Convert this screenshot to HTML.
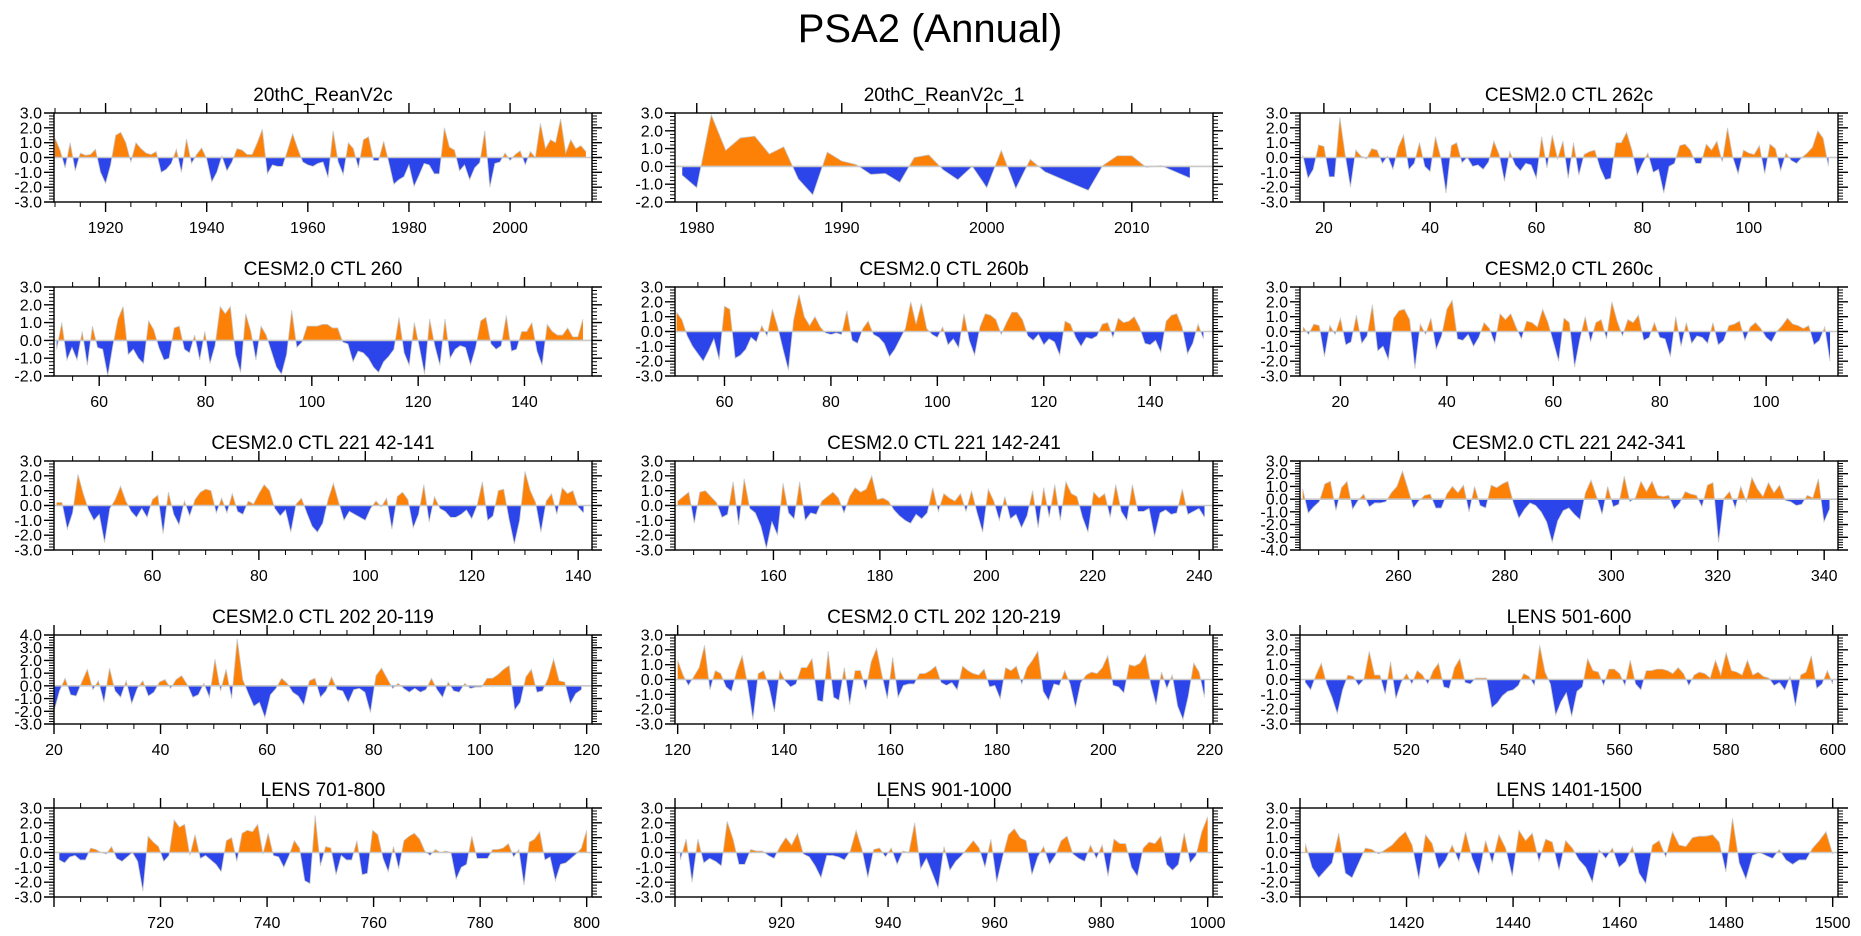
<!DOCTYPE html>
<html><head><meta charset="utf-8">
<style>
html,body{margin:0;padding:0;background:#fff;}
svg{display:block;font-family:"Liberation Sans",Arial,sans-serif;}
</style></head>
<body>
<svg id="chart" width="1861" height="936" viewBox="0 0 1861 936" xmlns="http://www.w3.org/2000/svg">
<rect width="1861" height="936" fill="#fff"/>
<text x="930" y="42" font-size="40" text-anchor="middle" fill="#000">PSA2 (Annual)</text>
</svg>
<script>
const panelTitles = ["20thC_ReanV2c","20thC_ReanV2c_1","CESM2.0 CTL 262c","CESM2.0 CTL 260","CESM2.0 CTL 260b","CESM2.0 CTL 260c","CESM2.0 CTL 221 42-141","CESM2.0 CTL 221 142-241","CESM2.0 CTL 221 242-341","CESM2.0 CTL 202 20-119","CESM2.0 CTL 202 120-219","LENS 501-600","LENS 701-800","LENS 901-1000","LENS 1401-1500"];

const xRanges = [[1909.8,2016.2],[1978.5,2015.6],[15.5,116.8],[51.5,152.7],[50.7,151.8],[12.4,113.5],[41.5,142.6],[141.5,242.6],[241.5,342.6],[20,121],[119.5,220.6],[500,601],[700,801],[900,1001],[1400,1501]];
const dataSpans = [[1910,2015],[1979,2014],[16,115],[52,151],[51,150],[13,112],[42,141],[142,241],[242,341],[20,119],[120,219],[501,600],[701,800],[901,1000],[1401,1500]];
const yRanges = [[-3,3],[-2,3],[-3,3],[-2,3],[-3,3],[-3,3],[-3,3],[-3,3],[-4,3],[-3,4],[-3,3],[-3,3],[-3,3],[-3,3],[-3,3]];
const xTickLabels = [
 [1920,1940,1960,1980,2000],[1980,1990,2000,2010],[20,40,60,80,100],[60,80,100,120,140],[60,80,100,120,140],[20,40,60,80,100],
 [60,80,100,120,140],[160,180,200,220,240],[260,280,300,320,340],[20,40,60,80,100,120],[120,140,160,180,200,220],[520,540,560,580,600],
 [720,740,760,780,800],[920,940,960,980,1000],[1420,1440,1460,1480,1500]];
const xMinorSteps = [5,2,5,5,5,5,5,5,5,5,5,5,5,5,5];

const p1Values=[1.3,0.5,-0.7,1.0,-0.9,0.3,0.15,0.2,0.55,-1.0,-1.75,-0.5,1.5,1.7,1.0,-0.3,1.0,0.6,0.3,0.2,0.4,-1.0,-0.8,-0.4,0.55,-1.0,1.25,-0.4,0.2,0.65,-0.1,-1.65,-1.0,0.1,-0.9,-0.3,0.6,0.5,0.2,0.2,1.0,1.9,-1.1,-0.5,-0.6,-0.6,0.5,1.6,0.6,-0.3,-0.5,-0.6,-0.4,-0.3,-1.35,1.8,-0.3,-1.15,1.0,0.6,-0.7,1.2,1.4,-0.2,-0.2,1.1,-0.3,-1.8,-1.5,-1.3,-0.5,-1.95,-1.2,-0.4,-0.5,-1.1,-1.1,2.0,0.7,0.5,-0.9,-0.5,-1.5,-0.7,-0.35,1.8,-2.0,-0.4,-0.3,0.3,-0.2,0.2,0.45,-0.5,0.4,0.0,2.3,0.6,1.2,1.0,2.6,0.3,1.2,0.6,0.8,0.4];
const p2Values=[-0.5,-1.2,2.9,0.9,1.6,1.7,0.7,1.1,-0.7,-1.6,0.8,0.3,0.1,-0.45,-0.4,-0.9,0.5,0.65,-0.2,-0.75,0.0,-1.2,0.9,-1.25,0.4,-0.3,-0.65,-1.0,-1.35,0.05,0.6,0.6,-0.05,0.05,-0.3,-0.65];
const p3Values=[0.2,-1.4,-0.8,0.85,0.75,-1.3,-1.3,2.7,0.2,-2.0,0.5,0.1,-0.1,0.6,0.5,-0.4,0.1,-0.8,0.7,1.5,-0.8,-0.4,1.0,-0.6,-0.95,1.4,0.0,-2.4,0.8,1.0,-0.35,0.0,-0.6,-0.5,-0.8,-0.3,1.1,0.2,-1.6,0.4,-0.5,-0.9,-0.4,-0.5,-1.4,1.4,-0.7,1.5,-0.1,1.1,-1.4,1.0,-1.2,0.2,0.4,0.5,-0.7,-1.5,-1.4,1.0,1.0,1.7,0.5,-1.2,-0.4,0.3,-1.0,-0.8,-2.4,-0.6,-0.4,0.8,0.9,0.5,-0.4,-0.4,0.9,0.5,1.1,-0.3,2.0,0.0,-1.1,0.5,0.3,0.2,0.8,-1.1,0.9,0.6,-0.9,0.3,-0.2,-0.4,0.0,0.3,0.7,1.8,1.3,-0.6];
const p4Values=[-0.5,1.0,-1.1,-0.4,-1.1,0.5,-1.4,0.8,-0.4,-0.5,-2.0,-0.3,1.2,1.9,-0.8,-0.5,-1.0,-1.3,1.1,0.6,-0.4,-1.1,-1.0,0.7,0.8,-0.5,-0.7,0.3,-1.1,0.5,-1.3,-0.3,1.9,1.5,1.9,-0.8,-1.8,1.5,0.5,-1.1,0.8,0.3,-0.6,-1.5,-1.9,-0.8,1.7,-0.4,-0.1,0.8,0.8,0.8,0.9,0.9,0.7,0.7,-0.1,-0.2,-1.2,-0.6,-0.7,-1.0,-1.5,-1.8,-1.2,-0.9,-0.5,1.3,-0.7,-1.4,1.0,-0.4,-1.9,1.2,-0.3,-1.4,1.2,-1.0,-0.5,-0.3,-0.4,-1.4,-0.4,1.1,1.3,-0.2,-0.5,-0.3,1.4,-0.6,-0.5,0.5,0.5,1.0,-0.6,-1.4,0.9,0.5,0.3,0.3,0.7,0.2,0.2,1.2];
const p5Values=[1.3,0.8,-0.3,-1.0,-1.5,-2.0,-1.3,-0.5,-1.9,1.7,1.5,-1.8,-1.6,-1.2,-0.4,-0.7,0.4,-0.3,1.5,0.3,-1.2,-2.6,0.8,2.5,1.0,0.4,1.0,0.3,-0.1,-0.2,-0.1,-0.2,1.4,-0.6,-0.8,0.2,0.7,-0.2,-0.4,-0.8,-1.7,-1.2,-0.5,0.2,2.0,0.5,1.9,0.2,-0.2,-0.4,0.3,-0.9,-0.5,-1.1,1.2,-0.6,-1.6,0.3,1.2,1.1,0.8,-0.2,0.6,1.3,1.3,0.8,-0.3,-0.6,-0.2,-0.9,-0.5,-0.7,-1.6,0.7,0.5,-0.4,-1.0,-0.4,-0.5,-0.3,0.5,0.6,-0.4,0.9,0.6,0.7,1.0,0.3,-0.8,-0.9,-0.6,-1.4,0.7,1.1,1.2,0.3,-1.5,-0.8,0.5,-0.5];
const p6Values=[0.3,-0.2,0.5,0.4,-1.7,0.4,-0.2,0.9,-0.9,-0.7,1.1,-0.8,-0.3,1.8,-1.3,-1.0,-1.9,0.9,1.4,1.5,0.8,-2.5,0.5,-0.2,0.9,-1.2,-0.3,1.5,2.1,-0.5,-0.6,-0.2,-1.0,-0.4,0.6,0.2,-0.8,1.2,0.8,1.2,0.3,-0.5,0.7,0.6,0.3,1.5,0.6,-0.7,-2.0,0.9,0.6,-2.4,-0.5,1.0,-0.7,0.6,0.8,-0.5,2.0,0.7,-0.3,0.8,0.6,1.1,-0.6,-0.4,0.6,-0.4,-0.5,-1.7,1.0,-1.0,0.6,-0.8,-0.3,-0.4,-0.8,0.6,-0.9,-0.6,0.4,0.5,0.7,-0.6,0.3,0.6,0.2,-0.4,-0.7,0.0,0.4,0.9,0.5,0.4,0.2,0.4,-0.9,-0.6,0.3,-2.0];
const p7Values=[0.2,0.2,-1.6,-0.5,2.1,0.8,-0.3,-1.0,-0.6,-2.5,-0.2,0.4,1.3,0.3,-0.4,-0.8,-0.2,-0.8,0.4,0.7,-1.9,0.9,-0.6,-1.3,0.3,-0.7,0.4,0.9,1.1,1.0,-0.5,0.5,-0.5,0.8,-0.4,-0.6,0.3,0.1,0.8,1.4,1.0,-0.2,-0.7,-0.3,-1.8,0.1,0.5,-0.5,-1.4,-1.8,-1.2,0.4,1.5,0.2,-1.0,-0.4,-0.6,-0.8,-1.0,-0.2,0.3,-0.1,0.5,-1.6,0.6,0.9,0.4,-1.5,-0.6,1.4,-1.1,0.6,-0.2,-0.4,-0.8,-0.8,-0.6,-0.3,-0.9,0.0,1.6,-1.0,-0.7,1.0,1.1,-0.9,-2.6,-1.0,2.3,1.0,0.2,-1.8,0.3,0.8,-0.6,1.2,0.8,1.0,-0.1,-0.5];
const p8Values=[0.3,0.6,0.9,-1.2,0.9,1.0,0.6,0.2,-0.8,-0.6,1.6,-1.3,1.8,-0.2,-0.5,-1.4,-2.9,-1.1,-2.0,1.5,-0.5,-0.9,1.6,-1.0,-0.5,-0.6,0.3,0.6,0.9,0.5,-0.5,0.6,1.2,0.9,1.1,2.0,0.4,0.5,0.3,-0.3,-0.7,-1.0,-1.2,-0.6,-0.9,-0.5,1.2,-0.4,0.8,0.5,0.3,0.8,-0.4,1.0,-0.5,-1.8,1.1,0.3,-1.0,0.6,-0.9,-0.6,-1.5,-0.7,1.0,-1.5,1.2,-0.8,1.4,-1.0,1.6,0.8,0.6,-0.8,-1.8,0.9,0.5,0.8,-0.8,1.4,-0.4,-1.0,1.4,-0.4,-0.4,-0.2,-2.1,-0.5,-0.3,-0.6,-0.5,1.1,-0.6,-0.4,-0.2,-0.8];
const p9Values=[0.8,-1.1,-0.6,-0.2,1.2,1.4,-0.9,0.9,1.4,-0.8,-0.1,0.4,-0.6,-0.3,-0.3,-0.2,0.5,1.0,2.2,0.8,-0.7,-0.1,0.3,0.4,-0.7,-0.7,0.4,1.0,0.5,1.1,-1.0,1.0,-0.5,-0.7,1.1,0.9,1.2,1.4,-0.3,-1.5,-0.8,-0.3,-0.5,-1.0,-1.8,-3.4,-1.7,-0.9,-0.7,-1.2,-1.6,0.5,1.5,0.2,-1.2,1.0,-0.6,-0.4,1.8,-0.2,0.1,1.4,0.6,1.4,0.3,0.2,0.3,-0.8,-0.3,0.6,0.4,0.3,-0.6,1.1,1.3,-3.4,0.1,0.6,-0.7,1.0,-0.2,1.7,0.8,0.2,1.3,0.5,1.1,-0.1,-0.2,-0.5,-0.4,0.3,0.1,1.6,-1.8,-0.8];
const p10Values=[-2.0,-0.4,0.6,-0.7,-0.8,0.3,1.3,-0.3,0.4,-1.3,1.4,-0.4,-0.9,0.4,-1.4,-0.2,0.4,-0.8,-0.5,0.3,0.5,-0.2,0.5,0.8,0.1,-0.9,-0.7,0.2,-0.9,2.1,-0.4,1.3,-1.0,3.7,0.5,-0.6,-1.6,-1.3,-2.5,-0.7,-0.2,0.6,0.2,-0.5,-0.8,-1.5,0.4,0.6,-0.9,-0.4,0.7,-0.3,-0.4,-1.3,-0.3,-0.2,-0.5,-2.1,0.8,1.4,0.6,-0.2,0.2,-0.2,-0.5,-0.2,-0.5,-0.3,0.6,-0.3,-0.9,0.3,-0.4,-0.5,0.2,-0.2,-0.1,-0.1,0.6,0.6,0.9,1.3,1.6,-1.9,-1.3,0.7,1.3,-0.5,-0.4,0.6,2.1,0.4,0.3,-1.4,-0.6,-0.3];
const p11Values=[1.3,0.3,-0.4,0.2,0.8,2.3,-0.7,0.6,0.4,-0.5,-0.8,0.6,1.6,-0.3,-2.7,0.4,0.6,-0.5,-2.2,0.6,-0.1,-0.5,-0.3,0.8,0.8,1.4,-1.4,-1.5,1.9,-1.2,-1.4,0.8,-1.7,0.6,0.6,-0.7,1.2,2.1,0.3,-1.3,1.5,-1.2,-0.4,-0.3,-0.3,0.4,0.4,0.6,0.9,-0.2,-0.4,-0.2,-0.7,0.9,0.6,0.4,0.3,0.7,-0.5,-0.4,-1.3,0.8,0.6,0.9,-0.3,0.8,1.3,1.9,-0.8,-1.4,-0.3,-0.4,0.6,-0.3,-1.9,-0.2,0.3,0.5,0.4,0.8,1.6,-0.4,-0.5,-0.9,1.0,0.9,1.1,1.7,-0.3,-1.7,0.5,-0.6,0.3,-1.8,-2.7,-1.1,1.1,0.5,-1.2];
const p12Values=[-0.2,-0.7,0.3,1.1,-0.3,-1.2,-2.3,-0.7,0.3,0.2,-0.4,0.0,1.9,0.3,0.3,-1.0,1.2,-1.3,-0.2,0.4,-0.3,0.6,0.3,-0.3,0.6,1.1,-0.5,-0.6,0.8,1.4,-0.2,-0.3,0.1,0.1,0.1,-1.9,-1.6,-1.1,-0.8,-0.7,-0.4,0.4,0.2,-0.4,2.3,0.5,-0.3,-2.4,-1.5,-0.9,-2.5,-0.8,-0.5,1.4,0.6,0.5,-0.4,0.7,0.7,0.4,-0.4,1.3,-0.3,-0.7,0.6,0.6,0.7,0.7,0.6,0.4,0.8,0.4,-0.4,0.3,0.5,0.4,0.1,1.3,0.3,1.8,0.6,0.5,0.3,1.3,0.3,0.5,0.2,0.1,-0.4,-0.2,-0.7,0.2,-1.8,0.3,0.5,1.6,-0.6,-0.3,0.6,-0.3];
const p13Values=[-0.5,-0.7,-0.3,-0.2,-0.5,-0.5,0.3,0.2,0.0,-0.1,0.4,-0.4,-0.6,-0.3,0.0,-0.6,-2.6,1.1,0.7,0.4,-0.6,-0.2,2.2,1.7,1.9,-0.2,1.2,-0.4,-0.2,-0.5,-0.8,-1.3,0.8,1.0,-0.6,1.3,1.5,1.4,1.9,-0.1,1.3,-0.2,-0.3,-1.0,-0.2,0.8,0.3,-1.9,-2.1,2.5,-0.9,0.4,0.3,-1.5,-0.2,-0.5,-0.5,0.8,-1.5,-1.4,1.5,1.2,-0.4,-1.3,0.4,-1.1,0.8,1.1,1.3,0.9,0.1,-0.2,0.2,0.0,0.1,0.0,-1.8,-1.0,-0.8,1.1,-0.4,-0.4,-0.4,0.2,0.2,0.3,0.6,-0.3,0.2,-2.2,0.7,0.9,1.4,-0.5,-0.3,-1.9,-0.8,-0.7,-0.4,-0.1,0.3,1.5];
const p14Values=[-0.5,0.9,-2.0,0.9,-0.7,-0.4,-0.6,-0.9,2.1,0.9,-0.8,-0.8,0.2,0.1,0.1,-0.2,-0.4,0.4,1.0,0.5,1.3,-0.1,-0.3,-0.9,-1.7,-0.2,-0.2,-0.3,-0.5,0.1,1.5,0.2,-1.7,0.2,0.3,-0.3,0.3,-0.8,0.1,0.0,2.0,-1.1,-0.4,-1.4,-2.4,0.4,-1.2,-0.6,-0.2,0.3,0.8,0.3,-1.0,0.9,-2.0,-0.3,1.2,1.6,1.0,0.8,-1.5,-0.3,0.4,-0.8,-0.2,0.8,1.1,-0.1,-0.4,-0.6,0.5,-0.4,0.5,-1.6,0.9,0.6,0.6,-1.0,-1.6,0.3,0.7,0.6,1.1,-0.8,-1.2,-0.8,1.3,-0.7,-0.2,1.4,2.4];
const p15Values=[0.6,-1.0,-1.7,-1.2,-0.7,1.3,-1.4,-1.7,-0.7,0.3,0.2,-0.1,0.2,0.5,1.0,1.4,0.5,-1.8,1.2,0.6,-1.1,-0.5,0.5,-0.6,1.4,-0.4,-1.5,0.8,-0.7,1.2,0.3,-1.6,1.5,0.8,1.3,-0.6,0.9,0.7,-1.2,0.8,0.3,-0.5,-1.0,-2.0,0.2,-0.4,0.3,-1.0,-0.6,0.4,-1.4,-2.1,0.5,0.8,-0.3,1.4,0.5,0.4,1.0,1.1,1.1,1.2,0.7,-1.3,2.3,-0.7,-1.8,-0.2,0.0,-0.2,-0.4,0.2,-0.5,-0.8,-0.5,-0.5,0.3,0.8,1.4,-0.1];

const seriesValues=[p1Values,p2Values,p3Values,p4Values,p5Values,p6Values,p7Values,p8Values,p9Values,p10Values,p11Values,p12Values,p13Values,p14Values,p15Values];

const NS="http://www.w3.org/2000/svg";
const svg=document.getElementById('chart');
const colLeft=[54,675,1300], colWidth=538, rowTop=[113,287,461,635,808], plotH=89;
const POS="#fd8107", NEG="#2b45eb";

function mk(tag,attrs,parent){const e=document.createElementNS(NS,tag);for(const k in attrs)e.setAttribute(k,attrs[k]);(parent||svg).appendChild(e);return e;}

for(let p=0;p<15;p++){
  const L=colLeft[p%3], T=rowTop[Math.floor(p/3)], W=colWidth, H=plotH;
  const [xmin,xmax]=xRanges[p], [ymin,ymax]=yRanges[p], [d0,d1]=dataSpans[p];
  const vals=seriesValues[p];
  const xs=v=>L+(v-xmin)/(xmax-xmin)*W;
  const ys=v=>T+(ymax-v)/(ymax-ymin)*H;
  const g=mk('g',{});
  
  

  const title=mk('text',{x:L+W/2,y:T-12,'font-size':19,'text-anchor':'middle',fill:'#000'},g);
  
  
  title.textContent=panelTitles[p];

  const y0=ys(0);
  const cidA='ca'+p, cidB='cb'+p;
  const defs=mk('defs',{},g);
  const ca=mk('clipPath',{id:cidA},defs); mk('rect',{x:L,y:T,width:W,height:y0-T},ca);
  const cb=mk('clipPath',{id:cidB},defs); mk('rect',{x:L,y:y0,width:W,height:T+H-y0},cb);
  const n=vals.length, step=(d1-d0)/(n-1);
  let d='M'+xs(d0).toFixed(2)+','+y0.toFixed(2);
  let line='';
  vals.forEach((v,i)=>{const X=xs(d0+i*step).toFixed(2),Y=ys(v).toFixed(2);d+=' L'+X+','+Y;line+=(i?' L':'M')+X+','+Y;});
  d+=' L'+xs(d1).toFixed(2)+','+y0.toFixed(2)+' Z';
  const aPos=mk('path',{d:d,fill:POS,'clip-path':'url(#'+cidA+')'},g);
  
  
  const aNeg=mk('path',{d:d,fill:NEG,'clip-path':'url(#'+cidB+')'},g);
  
  
  const ln=mk('path',{d:line,fill:'none',stroke:'#c8c8c8','stroke-width':0.8},g);
  
  
  const zl=mk('line',{x1:L,x2:L+W,y1:y0,y2:y0,stroke:'#c8c8c8','stroke-width':1.6},g);
  
  

  const frame=mk('rect',{x:L,y:T,width:W,height:H,fill:'none',stroke:'#000','stroke-width':1.4},g);
  
  

  const ms=xMinorSteps[p];
  let tp='';
  for(let v=Math.ceil(xmin/ms)*ms; v<=xmax; v+=ms){const X=xs(v).toFixed(2);tp+='M'+X+','+T+' v-5 M'+X+','+(T+H)+' v5 ';}
  const labs=xTickLabels[p];
  const majStep=labs.length>1?labs[1]-labs[0]:20;
  let tM='';
  for(let v=Math.ceil(xmin/majStep)*majStep; v<=xmax; v+=majStep){const X=xs(v).toFixed(2);tM+='M'+X+','+T+' v-10 M'+X+','+(T+H)+' v10 ';}
  labs.forEach(v=>{
    const t=mk('text',{x:xs(v),y:T+H+31,'font-size':16,'text-anchor':'middle',fill:'#000'},g);
    
    
    t.textContent=v;
  });
  for(let k=Math.round(ymin*5);k<=Math.round(ymax*5);k++){const Y=ys(k/5).toFixed(2);tp+='M'+L+','+Y+' h-5 M'+(L+W)+','+Y+' h5 ';}
  for(let v=ymin; v<=ymax; v++){
    const Y=ys(v).toFixed(2);tM+='M'+L+','+Y+' h-10 M'+(L+W)+','+Y+' h10 ';
    const t=mk('text',{x:L-12,y:ys(v)+5.5,'font-size':16,'text-anchor':'end',fill:'#000'},g);
    
    
    t.textContent=v.toFixed(1);
  }
  const minorTicks=mk('path',{d:tp,stroke:'#000','stroke-width':1,fill:'none'},g);
  
  
  const majorTicks=mk('path',{d:tM,stroke:'#000','stroke-width':1.4,fill:'none'},g);
  
  
}
</script>
</body></html>
